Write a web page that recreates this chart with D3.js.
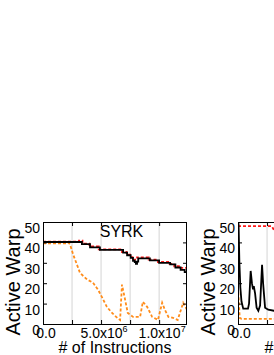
<!DOCTYPE html>
<html><head><meta charset="utf-8">
<script src="https://cdn.jsdelivr.net/npm/d3@7"></script>
<style>html,body{margin:0;padding:0;background:#fff;overflow:hidden}</style>
</head><body><svg id="c" width="274" height="355"></svg>
<script>
// ---- data (x in millions of instructions, y = active warps) ----
const yTickValues = [0, 10, 20, 30, 40, 50];
const xGridValues = [2.5e6, 5e6, 7.5e6, 1e7, 1.25e7];
const xLabelValues = [0, 5e6, 1e7];
const xLabelMantissa = ["0.0", "5.0x10", "1.0x10"];
const xLabelExponent = ["", "6", "7"];

// SYRK panel
const syrkBlack = [[0,40.2],[3.35,39.2],[4.05,37.6],[4.9,36.3],[6.9,35.0],[7.24,33.7],[7.55,32.4],[7.75,31.0],[7.9,30.4],[8.0,29.5],[8.1,30.6],[8.2,32.2],[9.2,31.2],[10.0,30.0],[10.95,29.2],[11.4,27.7],[11.85,26.5],[12.2,25.4],[12.4,25.4]];
const syrkRed = [[0,40.4],[3.1,40.9],[3.4,39.4],[4.0,38.0],[4.8,36.6],[6.8,35.3],[7.2,34.0],[7.5,32.8],[7.8,31.6],[8.1,32.7],[9.1,31.6],[9.9,30.4],[10.9,29.5],[11.3,28.3],[11.8,27.5],[12.4,27.3]];
const syrkOrange = [[0,39.5],[2.07,39.5],[2.16,40],[2.33,39],[2.6,34],[2.93,29],[3.19,25],[3.8,21.8],[4.3,20.3],[4.74,16.8],[5.1,12.9],[5.5,8.4],[5.95,5.4],[6.4,3],[6.64,2],[6.8,19.3],[7.07,11.9],[7.3,5.4],[7.76,3.5],[8.36,3.5],[8.6,10.9],[8.97,8.4],[9.4,3.5],[9.9,2],[10.26,10.4],[10.5,6.9],[10.8,3.5],[11.2,3],[11.6,2],[12.07,10.4],[12.4,7]];

// second (cut-off) panel
const p2Black = [[0,50],[0.05,49],[0.12,30],[0.2,18],[0.3,11],[0.45,7.5],[0.86,7.5],[0.95,10],[1.09,26],[1.2,20],[1.29,17],[1.36,18.5],[1.47,15],[1.6,8],[1.75,6.5],[1.9,9],[2.07,29],[2.16,20],[2.33,8],[2.6,7],[3.1,6.5],[3.5,6]];
const p2Red = [[0,48],[2.9,48],[3.1,46],[3.5,44]];
const p2Orange = [[0,18],[0.08,10],[0.15,3],[0.3,2.5],[3.5,2.5]];

const panels = [
  {x0: 43, x1: 187, xmax: 12.4e6, title: "SYRK", black: syrkBlack, red: syrkRed, orange: syrkOrange, ylabX: 19.5, xlabC: 115},
  {x0: 238, x1: 410, xmax: 14.8e6, title: "", black: p2Black, red: p2Red, orange: p2Orange, ylabX: 214.5, xlabC: 321}
];

const FONT = "'Liberation Sans', Arial, Helvetica, sans-serif";
const svg = d3.select("#c").style("font-family", FONT);
svg.append("rect").attr("width", 274).attr("height", 355).attr("fill", "#fff");

const yTop = 222, yBot = 324;
const y = d3.scaleLinear().domain([0, 50]).range([yBot, yTop]);

panels.forEach((p, i) => {
  const x = d3.scaleLinear().domain([0, p.xmax]).range([p.x0, p.x1]);
  const g = svg.append("g");
  const clipId = "clip" + i;
  svg.append("clipPath").attr("id", clipId).append("rect")
    .attr("x", p.x0).attr("y", yTop).attr("width", p.x1 - p.x0).attr("height", yBot - yTop);

  // vertical grid
  g.selectAll(".grid").data(xGridValues.filter(v => v < p.xmax)).enter().append("line")
    .attr("x1", d => x(d)).attr("x2", d => x(d)).attr("y1", yTop).attr("y2", yBot)
    .attr("stroke", "#d4d4d4").attr("stroke-width", 1);

  // lines
  const line = (curve) => d3.line().x(d => x(d[0] * 1e6)).y(d => y(d[1])).curve(curve);
  const lg = g.append("g").attr("clip-path", `url(#${clipId})`);
  lg.append("path").datum(p.orange).attr("d", line(d3.curveLinear))
    .attr("fill", "none").attr("stroke", "#ff8c1a").attr("stroke-width", 1.8).attr("stroke-dasharray", "3,2");
  lg.append("path").datum(p.red).attr("d", line(i === 0 ? d3.curveStepAfter : d3.curveLinear))
    .attr("fill", "none").attr("stroke", "#ff1a1a").attr("stroke-width", 1.8).attr("stroke-dasharray", "3,2");
  lg.append("path").datum(p.black).attr("d", line(i === 0 ? d3.curveStepAfter : d3.curveLinear))
    .attr("fill", "none").attr("stroke", "#000").attr("stroke-width", 1.8);

  // frame
  g.append("rect").attr("x", p.x0 + 0.5).attr("y", yTop + 0.5).attr("width", p.x1 - p.x0 - 1).attr("height", yBot - yTop)
    .attr("fill", "none").attr("stroke", "#000").attr("stroke-width", 1);

  // inside ticks (mirrored) via d3 axes
  const tl = 4;
  g.append("g").attr("transform", `translate(${p.x0},0)`)
    .call(d3.axisRight(y).tickValues(yTickValues).tickSize(tl).tickFormat(""))
    .call(a => a.select(".domain").remove());
  g.append("g").attr("transform", `translate(${p.x1},0)`)
    .call(d3.axisLeft(y).tickValues(yTickValues).tickSize(tl).tickFormat(""))
    .call(a => a.select(".domain").remove());
  const xt = [0].concat(xGridValues).filter(v => v < p.xmax);
  g.append("g").attr("transform", `translate(0,${yBot})`)
    .call(d3.axisTop(x).tickValues(xt).tickSize(tl).tickFormat(""))
    .call(a => a.select(".domain").remove());
  g.append("g").attr("transform", `translate(0,${yTop})`)
    .call(d3.axisBottom(x).tickValues(xt).tickSize(tl).tickFormat(""))
    .call(a => a.select(".domain").remove());

  // y tick labels
  g.selectAll(".yl").data(yTickValues).enter().append("text")
    .attr("x", p.x0 - 3).attr("y", d => y(d) + 11)
    .attr("text-anchor", "end").attr("font-size", 14).attr("fill", "#000")
    .text(d => d);

  // x tick labels
  xLabelValues.forEach((v, k) => {
    if (v > p.xmax) return;
    const t = g.append("text").attr("x", x(v) + 3).attr("y", 338)
      .attr("text-anchor", "middle").attr("font-size", 14).attr("fill", "#000");
    t.append("tspan").text(xLabelMantissa[k]);
    if (xLabelExponent[k]) t.append("tspan").attr("font-size", 9).attr("dy", -6).text(xLabelExponent[k]);
  });

  // axis titles
  g.append("text").attr("transform", `translate(${p.ylabX},282) rotate(-90)`)
    .attr("text-anchor", "middle").attr("font-size", 20).attr("fill", "#000").text("Active Warp");
  g.append("text").attr("x", p.xlabC).attr("y", 352.5)
    .attr("text-anchor", "middle").attr("font-size", 16).attr("fill", "#000").text("# of Instructions");
  if (p.title) {
    g.append("text").attr("x", 121.5).attr("y", 237)
      .attr("text-anchor", "middle").attr("font-size", 16).attr("fill", "#000").text(p.title);
  }
});
</script>
</body></html>
